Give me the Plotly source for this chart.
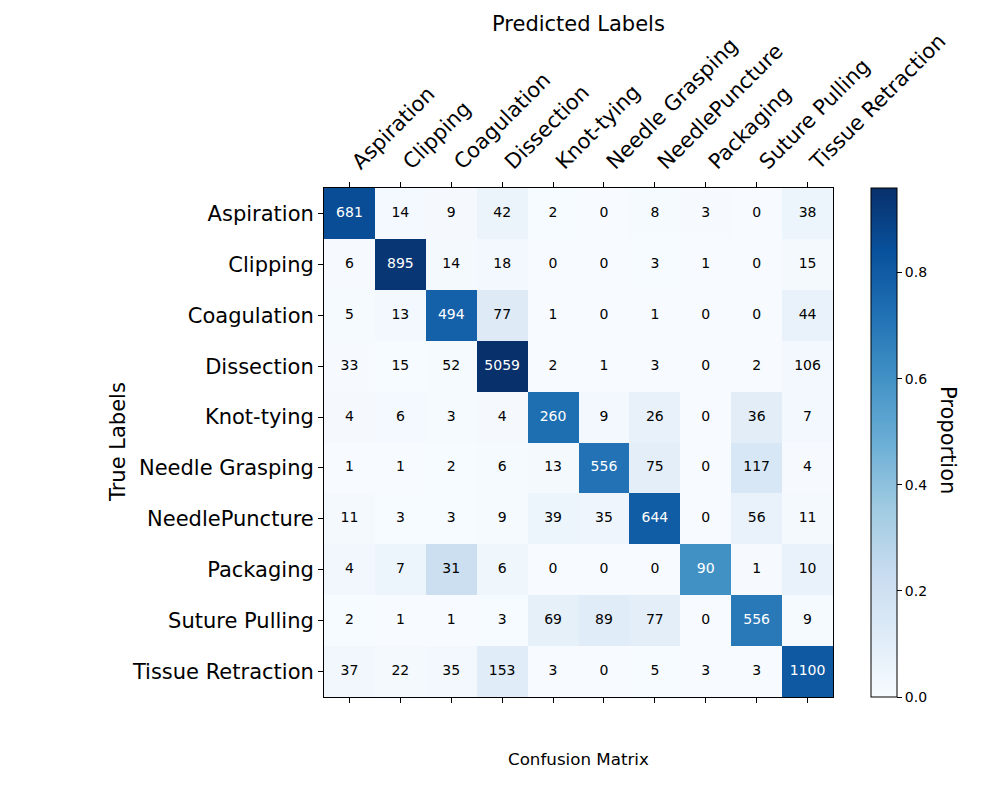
import numpy as np
import plotly.graph_objects as go

labels = ["Aspiration", "Clipping", "Coagulation", "Dissection", "Knot-tying",
          "Needle Grasping", "NeedlePuncture", "Packaging", "Suture Pulling",
          "Tissue Retraction"]

# rows = true label, columns = predicted label
row_aspiration = [681, 14, 9, 42, 2, 0, 8, 3, 0, 38]
row_clipping = [6, 895, 14, 18, 0, 0, 3, 1, 0, 15]
row_coagulation = [5, 13, 494, 77, 1, 0, 1, 0, 0, 44]
row_dissection = [33, 15, 52, 5059, 2, 1, 3, 0, 2, 106]
row_knot_tying = [4, 6, 3, 4, 260, 9, 26, 0, 36, 7]
row_needle_grasping = [1, 1, 2, 6, 13, 556, 75, 0, 117, 4]
row_needle_puncture = [11, 3, 3, 9, 39, 35, 644, 0, 56, 11]
row_packaging = [4, 7, 31, 6, 0, 0, 0, 90, 1, 10]
row_suture_pulling = [2, 1, 1, 3, 69, 89, 77, 0, 556, 9]
row_tissue_retraction = [37, 22, 35, 153, 3, 0, 5, 3, 3, 1100]

cm = np.array([row_aspiration, row_clipping, row_coagulation, row_dissection,
               row_knot_tying, row_needle_grasping, row_needle_puncture,
               row_packaging, row_suture_pulling, row_tissue_retraction])

# colour by row-normalised proportion
prop = cm / cm.sum(axis=1, keepdims=True)
thresh = prop.max() / 2

blues = ['rgb(247,251,255)', 'rgb(222,235,247)', 'rgb(198,219,239)',
         'rgb(158,202,225)', 'rgb(107,174,214)', 'rgb(66,146,198)',
         'rgb(33,113,181)', 'rgb(8,81,156)', 'rgb(8,48,107)']
colorscale = [[i / (len(blues) - 1), c] for i, c in enumerate(blues)]

n = len(labels)
idx = list(range(n))
FONT = "DejaVu Sans"

# page has an 8px body margin, so the plot box is placed 8px up/left
L, T, W, H = 316, 180, 509, 509

fig = go.Figure()

fig.add_trace(go.Heatmap(
    z=prop, x=idx, y=idx,
    colorscale=colorscale, zmin=0, zmax=prop.max(),
    hoverinfo="skip",
    colorbar=dict(
        x=(871 - 324) / W, xanchor="left", xpad=0,
        y=0, yanchor="bottom", ypad=0,
        len=1, lenmode="fraction", thickness=26, outlinewidth=1,
        outlinecolor="black", tickvals=[0, 0.2, 0.4, 0.6, 0.8],
        ticktext=["0.0", "0.2", "0.4", "0.6", "0.8"],
        ticks="outside", ticklen=5, tickcolor="black",
        tickfont=dict(family=FONT, size=14, color="black"),
    ),
))

# cell counts
xs, ys, txt, cols = [], [], [], []
for i in range(n):
    for j in range(n):
        xs.append(j)
        ys.append(i)
        txt.append(str(cm[i, j]))
        cols.append("white" if prop[i, j] > thresh else "black")

fig.add_trace(go.Scatter(
    x=xs, y=ys, text=txt, mode="text", xaxis="x2",
    textfont=dict(family=FONT, size=14, color=cols),
    hoverinfo="skip", showlegend=False,
))

fig.update_layout(
    width=1000, height=800,
    margin=dict(l=L, r=1000 - L - W, t=T, b=800 - T - H, autoexpand=False),
    plot_bgcolor="white", paper_bgcolor="white",
    font=dict(family=FONT, color="black"),
    xaxis=dict(
        side="top", range=[-0.5, n - 0.5], tickvals=idx, ticktext=labels,
        tickangle=-45, tickfont=dict(size=21), ticks="outside", ticklen=5,
        ticklabelshift=4,
        tickcolor="black", showline=True, linecolor="black", linewidth=1,
        showgrid=False, zeroline=False, automargin=False,
    ),
    xaxis2=dict(
        overlaying="x", side="bottom", range=[-0.5, n - 0.5], tickvals=idx,
        showticklabels=False, ticks="outside", ticklen=5, tickcolor="black",
        showline=True, linecolor="black", linewidth=1,
        showgrid=False, zeroline=False,
    ),
    yaxis=dict(
        range=[n - 0.5, -0.5], tickvals=idx, ticktext=labels,
        tickfont=dict(size=21), ticks="outside", ticklen=5, tickcolor="black",
        showline=True, mirror=True, linecolor="black", linewidth=1,
        showgrid=False, zeroline=False, automargin=False,
    ),
    annotations=[
        dict(text="Predicted Labels", xref="paper", yref="paper",
             x=0.5, y=(697 - 24) / H, showarrow=False,
             xanchor="center", yanchor="middle", font=dict(size=21)),
        dict(text="True Labels", xref="paper", yref="paper",
             x=(118 - 324) / W, y=(697 - 442) / H, showarrow=False,
             xanchor="center", yanchor="middle",
             textangle=-90, font=dict(size=21)),
        dict(text="Confusion Matrix", xref="paper", yref="paper",
             x=0.5, y=(697 - 759) / H, showarrow=False,
             xanchor="center", yanchor="middle", font=dict(size=16.7)),
        dict(text="Proportion", xref="paper", yref="paper",
             x=(948 - 324) / W, y=(697 - 440) / H, showarrow=False,
             xanchor="center", yanchor="middle",
             textangle=90, font=dict(size=21)),
    ],
)

fig.write_html("out.html")
